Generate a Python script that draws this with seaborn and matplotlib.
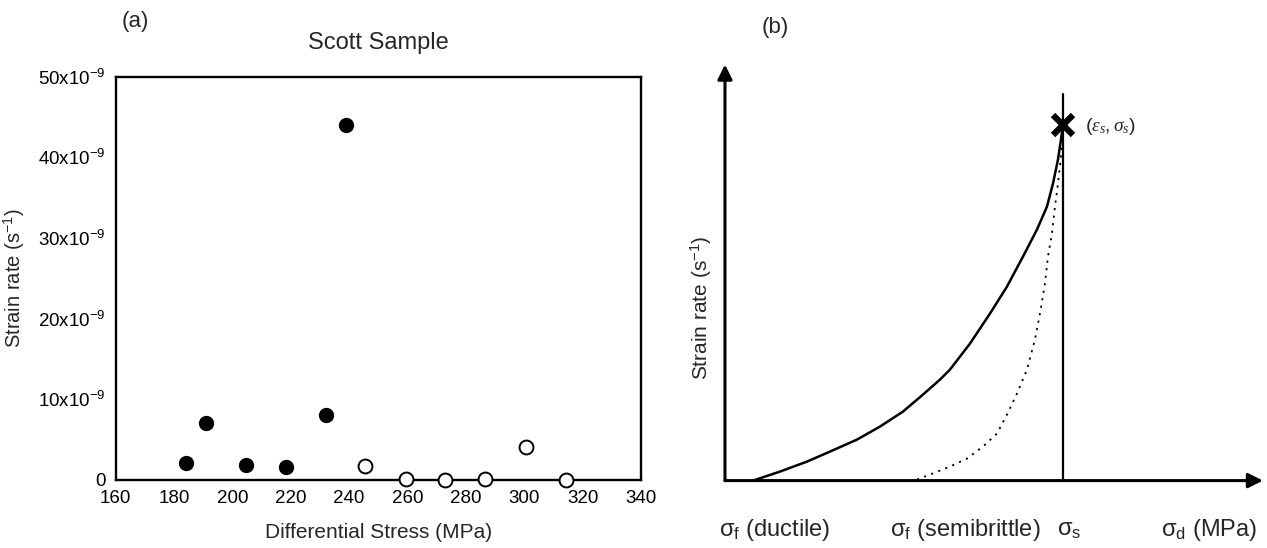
import matplotlib
matplotlib.use("Agg")
from matplotlib import pyplot as plt
import numpy as np
import pandas as pd
import seaborn as sns

# (a) Scott sample: differential stress (MPa) vs strain rate (1/s)
stress_filled = [184, 191, 204.5, 218.5, 232, 239]
rate_filled = [2.1e-9, 7.1e-9, 1.8e-9, 1.55e-9, 8.1e-9, 44.0e-9]
stress_open = [245.6, 259.4, 273, 286.7, 300.5, 314.2]
rate_open = [1.7e-9, 0.15e-9, 0.0, 0.15e-9, 4.05e-9, 0.0]

x_ticks = [160, 180, 200, 220, 240, 260, 280, 300, 320, 340]
y_ticks = [0, 10e-9, 20e-9, 30e-9, 40e-9, 50e-9]
y_ticklabels = ["0", "10x10$^{-9}$", "20x10$^{-9}$", "30x10$^{-9}$",
                "40x10$^{-9}$", "50x10$^{-9}$"]

# (b) schematic curves (arbitrary units)
ductile_x = [28, 55, 82, 105, 132, 155, 178, 198, 215, 225, 245, 265, 282,
             298, 312, 322, 328, 333, 336, 338]
ductile_y = [0, 9, 19, 29, 41, 54, 69, 86, 101, 111, 137, 167, 194,
             224, 251, 274, 297, 321, 341, 356]
semi_x = [192, 210, 225, 242, 258, 272, 282, 292, 302, 310, 315, 320, 323,
          327, 330, 333, 336, 337]
semi_y = [1, 8, 14, 22, 34, 47, 66, 87, 111, 141, 167, 197, 224,
          247, 274, 297, 324, 340]
sigma_s = 338
sigma_s_top = 387
failure_y = 356
x_arrow_end = 538
y_arrow_end = 416

sns.set_style("white")
plt.rcParams['font.family'] = ['Liberation Sans', 'DejaVu Sans']
plt.rcParams['mathtext.fontset'] = 'custom'
plt.rcParams['mathtext.rm'] = 'Liberation Sans'
plt.rcParams['mathtext.it'] = 'Liberation Serif:italic'
plt.rcParams['mathtext.default'] = 'regular'

fig = plt.figure(figsize=(12.67, 5.48), dpi=100)

# ---------------- panel (a) ----------------
ax1 = fig.add_axes([0.0913, 0.1241, 0.4146, 0.7363])
df_f = pd.DataFrame({'stress': stress_filled, 'rate': rate_filled})
df_o = pd.DataFrame({'stress': stress_open, 'rate': rate_open})
sns.scatterplot(data=df_f, x='stress', y='rate', ax=ax1, s=100, color='black',
                edgecolor='black', linewidth=1, clip_on=False, zorder=5)
sns.scatterplot(data=df_o, x='stress', y='rate', ax=ax1, s=100, color='white',
                edgecolor='black', linewidth=1.4, clip_on=False, zorder=5)
ax1.set_xlim(160, 340)
ax1.set_ylim(0, 50e-9)
ax1.set_xticks(x_ticks)
ax1.set_yticks(y_ticks)
ax1.set_yticklabels(y_ticklabels)
ax1.tick_params(axis='both', direction='in', length=5, width=1, labelsize=13.5,
                colors='black', pad=7)
for sp in ax1.spines.values():
    sp.set_linewidth(1.7)
    sp.set_color('black')
ax1.set_xlabel('Differential Stress (MPa)', fontsize=15, labelpad=12)
ax1.set_ylabel('Strain rate (s$^{-1}$)', fontsize=14.5, labelpad=8)
ax1.set_title('Scott Sample', fontsize=17, pad=20)
fig.text(0.1066, 0.96, '(a)', fontsize=16, ha='center', va='center')

# ---------------- panel (b) ----------------
ax2 = fig.add_axes([0.5722, 0.1230, 0.4254, 0.7664])
ax2.set_xlim(0, 539)
ax2.set_ylim(0, 420)
ax2.axis('off')

sns.lineplot(x=ductile_x, y=ductile_y, ax=ax2, color='black', linewidth=1.8,
             sort=False, estimator=None)
sns.lineplot(x=semi_x, y=semi_y, ax=ax2, color='black', linewidth=1.3,
             sort=False, estimator=None, linestyle=(0, (1.2, 3)))
ax2.plot([sigma_s, sigma_s], [0, sigma_s_top], color='black', lw=1.6)
ax2.plot([sigma_s], [failure_y], marker='x', color='black', ms=14, mew=4.5)

ax2.annotate('', xy=(x_arrow_end, 0), xytext=(0, 0), annotation_clip=False,
             arrowprops=dict(arrowstyle='-|>', color='black', lw=2.2,
                             mutation_scale=22, shrinkA=0, shrinkB=0))
ax2.annotate('', xy=(0, y_arrow_end), xytext=(0, 0), annotation_clip=False,
             arrowprops=dict(arrowstyle='-|>', color='black', lw=2.2,
                             mutation_scale=22, shrinkA=0, shrinkB=0))

ax2.text(sigma_s + 22, failure_y - 2, r'$\mathit{(\varepsilon_s,\sigma_s)}$',
         fontsize=14, ha='left', va='center')
ax2.text(-24, 173, 'Strain rate (s$^{-1}$)', rotation=90, fontsize=15,
         ha='center', va='center')
ax2.text(50, 453, '(b)', fontsize=16, ha='center', va='center')

ax2.text(50, -49, r'$\sigma_f$ (ductile)', fontsize=17, ha='center', va='center')
ax2.text(240, -49, r'$\sigma_f$ (semibrittle)', fontsize=17, ha='center', va='center')
ax2.text(344, -49, r'$\sigma_s$', fontsize=17, ha='center', va='center')
ax2.text(484, -49, r'$\sigma_d$ (MPa)', fontsize=17, ha='center', va='center')

fig.savefig('out.png', dpi=100)
